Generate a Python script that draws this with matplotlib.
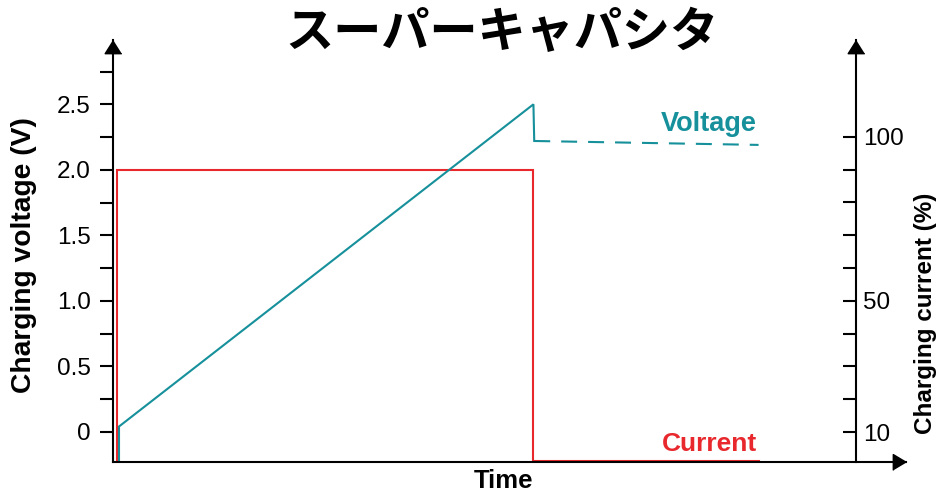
import matplotlib
matplotlib.use("Agg")
import matplotlib.pyplot as plt
from matplotlib.ticker import FixedLocator, NullFormatter

# ---- data ----
time_current = [0.47, 0.47, 53.0, 53.0, 81.4]
current_pct = [-5, 90, 90, 1.2, 1.2]
time_voltage = [0.72, 0.72, 53.0, 53.1]
voltage = [-0.3, 0.04, 2.5, 2.22]
time_rest = [53.1, 81.4]
voltage_rest = [2.22, 2.19]

left_major = [0, 0.5, 1.0, 1.5, 2.0, 2.5]
left_labels = ["0", "0.5", "1.0", "1.5", "2.0", "2.5"]
left_minor = [0.25, 0.75, 1.25, 1.75, 2.25, 2.75]
right_major = [10, 50, 100]
right_labels = ["10", "50", "100"]
right_minor = [20, 30, 40, 60, 70, 80, 90]

title = "スーパーキャパシタ"
xlabel = "Time"
ylabel_left = "Charging voltage (V)"
ylabel_right = "Charging current (%)"

TEAL = "#16909B"
RED = "#E8282C"

plt.rcParams['font.family'] = ['Liberation Sans', 'DejaVu Sans']
plt.rcParams['lines.scale_dashes'] = False

W, H = 938, 494
fig = plt.figure(figsize=(W / 100, H / 100), dpi=100)
ax = fig.add_axes([113.3 / W, (H - 462) / H, (906 - 113.3) / W, (462 - 40) / H])
ax2 = ax.twinx()

ax.set_xlim(0, 100)
ax.set_ylim(-0.231, 2.991)
ax2.set_ylim(0.856, 129.5)

# put voltage axes on top
ax.set_zorder(ax2.get_zorder() + 1)
ax.patch.set_visible(False)

for s in ["top", "right"]:
    ax.spines[s].set_visible(False)
for s in ["top", "left", "bottom"]:
    ax2.spines[s].set_visible(False)
for s in ["left", "bottom"]:
    ax.spines[s].set_linewidth(1.5)
RIGHT_X = (856 - 113.3) / (906 - 113.3) * 100
ax2.spines["right"].set_position(("data", RIGHT_X))
ax2.spines["right"].set_linewidth(1.5)

# left ticks
ax.yaxis.set_major_locator(FixedLocator(left_major))
ax.set_yticklabels(left_labels)
ax.yaxis.set_minor_locator(FixedLocator(left_minor))
ax.tick_params(axis="y", which="both", direction="out", length=9.4, width=1.5,
               labelsize=17.5, pad=7)
ax.set_xticks([])

# right ticks
ax2.yaxis.set_major_locator(FixedLocator(right_major))
ax2.set_yticklabels(right_labels)
ax2.yaxis.set_minor_locator(FixedLocator(right_minor))
ax2.yaxis.set_minor_formatter(NullFormatter())
ax2.tick_params(axis="y", which="both", direction="in", length=9.4, width=1.5,
                labelsize=17.5, pad=5)

# arrowheads
up = [(0, 0), (-0.63, -1), (0.63, -1)]
rt = [(0, 0), (-1, 0.6), (-1, -0.6)]
ax.plot([0], [1], marker=up, markersize=19, color="black", transform=ax.transAxes, clip_on=False)
ax.plot([1], [0], marker=rt, markersize=19, color="black", transform=ax.transAxes, clip_on=False)
ax2.plot([RIGHT_X], [1], marker=up, markersize=19, color="black",
         transform=ax2.get_xaxis_transform(), clip_on=False)

# series
ax2.plot(time_current, current_pct, color=RED, lw=1.5, solid_joinstyle="miter")
ax.plot(time_voltage, voltage, color=TEAL, lw=1.5, solid_joinstyle="miter")
ax.plot(time_rest, voltage_rest, color=TEAL, lw=1.5, dashes=(11.5, 7.9))

# texts
fig.text(757 / W, (H - 130.7) / H, "Voltage", color=TEAL, fontsize=19.5, fontweight="bold",
         ha="right", va="baseline")
fig.text(757 / W, (H - 451) / H, "Current", color=RED, fontsize=19, fontweight="bold",
         ha="right", va="baseline")
fig.text(503 / W, (H - 481) / H, xlabel, fontsize=18.5, fontweight="bold", ha="center", va="center")
fig.text(24 / W, (H - 255) / H, ylabel_left, fontsize=20.3, fontweight="bold", rotation=90,
         ha="center", va="center")
fig.text(925 / W, (H - 313) / H, ylabel_right, fontsize=17.5, fontweight="bold", rotation=90,
         ha="center", va="center")
fig.text(502 / W, (H - 32) / H, title, fontsize=34.7, fontweight="bold",
         family=['Noto Sans CJK JP', 'DejaVu Sans'], ha="center", va="center")

fig.savefig("out.png", dpi=100)
